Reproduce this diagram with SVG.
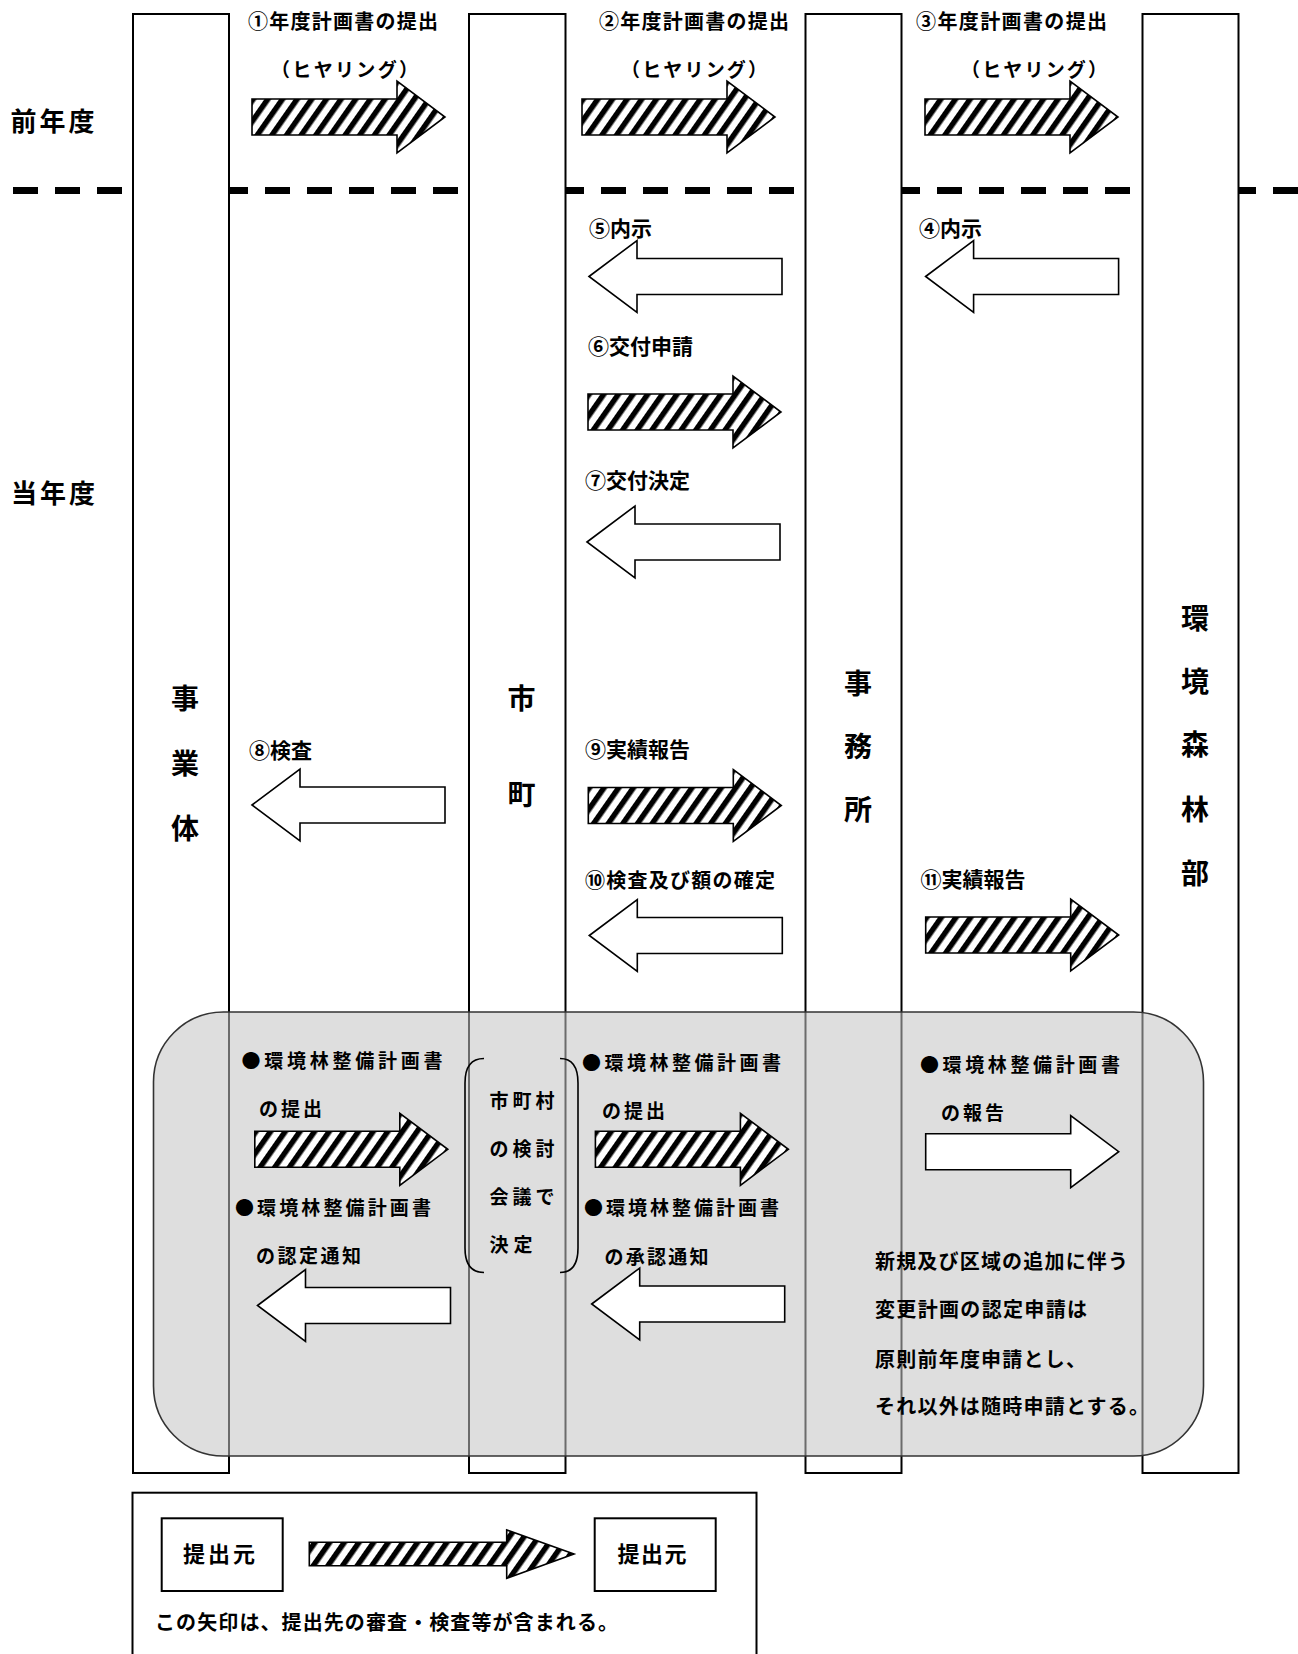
<svg xmlns="http://www.w3.org/2000/svg" xmlns:xlink="http://www.w3.org/1999/xlink" width="1298" height="1654" viewBox="0 0 1298 1654">
<style>
text{font-family:"Noto Sans CJK JP","Noto Sans CJK SC",sans-serif;font-weight:bold;fill:#000;dominant-baseline:central}
.lbl{font-size:20px}
.sm{font-size:21px}
.hy{font-size:19px}
.g{font-size:19px}
.col{font-size:28px;text-anchor:middle}
.side{font-size:26px}
.lane{fill:#fff;stroke:#000;stroke-width:2}
.hat{fill:url(#hatch);stroke:#000;stroke-width:1.6}
.wht{fill:#fff;stroke:#000;stroke-width:1.6}
.box{fill:#fff;stroke:#000;stroke-width:2}
</style>
<defs>
<pattern id="hatch" patternUnits="userSpaceOnUse" width="12" height="12" patternTransform="rotate(35)">
<rect width="12" height="12" fill="#fff"/><rect width="5.5" height="12" fill="#000"/>
</pattern>
<path id="ar" d="M0,-18 H145 V-36 L193,0 L145,36 V18 H0 Z"/>
<path id="al" d="M0,0 L48,-36 V-18 H193 V18 H48 V36 Z"/>
</defs>
<rect width="1298" height="1654" fill="#fff"/>
<line x1="13" y1="190.5" x2="1298" y2="190.5" stroke="#000" stroke-width="7" stroke-dasharray="25 17"/>
<text class="side" x="10.5" y="119" textLength="84">前年度</text>
<text class="side" x="11" y="491" textLength="84">当年度</text>
<g id="jigyotai"><rect class="lane" x="133" y="14" width="96" height="1459"/>
<text class="col" x="185" y="697">事</text><text class="col" x="185" y="762">業</text><text class="col" x="185" y="827">体</text></g>
<g id="shicho"><rect class="lane" x="469" y="14" width="96.5" height="1459"/>
<text class="col" x="521.5" y="697">市</text><text class="col" x="521.5" y="793">町</text></g>
<g id="jimusho"><rect class="lane" x="805.5" y="14" width="96" height="1459"/>
<text class="col" x="858" y="682">事</text><text class="col" x="858" y="745">務</text><text class="col" x="858" y="808">所</text></g>
<g id="kankyo"><rect class="lane" x="1142.5" y="14" width="96" height="1459"/>
<text class="col" x="1195" y="617">環</text><text class="col" x="1195" y="680">境</text><text class="col" x="1195" y="743">森</text><text class="col" x="1195" y="808">林</text><text class="col" x="1195" y="872">部</text></g>
<g id="plan-area">
<rect x="153.5" y="1012" width="1050" height="444" rx="70" ry="70" fill="#c3c3c3" fill-opacity="0.55" stroke="#333" stroke-width="1.6"/>
</g>
<g id="council">
<path d="M484,1058.5 Q465,1058.5 465,1083 V1248 Q465,1272.5 484,1272.5" fill="none" stroke="#000" stroke-width="1.6"/>
<path d="M560,1058.5 Q578,1058.5 578,1083 V1248 Q578,1272.5 560,1272.5" fill="none" stroke="#000" stroke-width="1.6"/>
<text class="g" x="489.6" y="1099" textLength="65">市町村</text>
<text class="g" x="489.6" y="1147" textLength="65">の検討</text>
<text class="g" x="489.6" y="1195" textLength="65">会議で</text>
<text class="g" x="489.6" y="1243" textLength="43">決定</text>
</g>
<g id="connectors">
<use href="#ar" class="hat" transform="translate(252,117)"/>
<use href="#ar" class="hat" transform="translate(582,117)"/>
<use href="#ar" class="hat" transform="translate(925,117)"/>
<use href="#al" class="wht" transform="translate(925.6,276.5)"/>
<use href="#al" class="wht" transform="translate(589,276.5)"/>
<use href="#ar" class="hat" transform="translate(588,412)"/>
<use href="#al" class="wht" transform="translate(587,542)"/>
<use href="#al" class="wht" transform="translate(252,805)"/>
<use href="#ar" class="hat" transform="translate(588.3,805.5)"/>
<use href="#al" class="wht" transform="translate(589.3,935.5)"/>
<use href="#ar" class="hat" transform="translate(925.7,935)"/>
<use href="#ar" class="hat" transform="translate(254.8,1149.3)"/>
<use href="#al" class="wht" transform="translate(257.5,1305.5)"/>
<use href="#ar" class="hat" transform="translate(595.4,1149.3)"/>
<use href="#al" class="wht" transform="translate(591.7,1304)"/>
<use href="#ar" class="wht" transform="translate(925.7,1151.7)"/>
</g>
<g id="labels">
<text class="lbl" x="248" y="20.7" textLength="190">①年度計画書の提出</text>
<text class="hy" x="271" y="68.3" textLength="147">（ヒヤリング）</text>
<text class="lbl" x="599" y="20.5" textLength="190">②年度計画書の提出</text>
<text class="hy" x="621" y="68.3" textLength="146">（ヒヤリング）</text>
<text class="lbl" x="916" y="20.5" textLength="191">③年度計画書の提出</text>
<text class="hy" x="961" y="68.3" textLength="146">（ヒヤリング）</text>
<text class="sm" x="919" y="226.7">④内示</text>
<text class="sm" x="589" y="226.7">⑤内示</text>
<text class="sm" x="588" y="345">⑥交付申請</text>
<text class="sm" x="585" y="479">⑦交付決定</text>
<text class="sm" x="249" y="748.6">⑧検査</text>
<text class="sm" x="585" y="748.3">⑨実績報告</text>
<text class="lbl" x="585" y="879.3" textLength="190">⑩検査及び額の確定</text>
<text class="sm" x="920.5" y="878">⑪実績報告</text>
<text class="g" x="241.5" y="1059" textLength="201">●環境林整備計画書</text>
<text class="g" x="259" y="1107" textLength="63">の提出</text>
<text class="g" x="235" y="1206" textLength="196">●環境林整備計画書</text>
<text class="g" x="256" y="1254" textLength="105">の認定通知</text>
<text class="g" x="582" y="1061" textLength="199">●環境林整備計画書</text>
<text class="g" x="602" y="1109.5" textLength="63">の提出</text>
<text class="g" x="584" y="1206.5" textLength="195">●環境林整備計画書</text>
<text class="g" x="604.5" y="1255" textLength="104">の承認通知</text>
<text class="g" x="920" y="1063" textLength="200">●環境林整備計画書</text>
<text class="g" x="941" y="1111.7" textLength="63">の報告</text>
<text class="lbl" x="875" y="1260" textLength="253">新規及び区域の追加に伴う</text>
<text class="lbl" x="875" y="1308.3" textLength="212">変更計画の認定申請は</text>
<text class="lbl" x="875" y="1358.3" textLength="211">原則前年度申請とし、</text>
<text class="lbl" x="875" y="1405" textLength="274">それ以外は随時申請とする。</text>
</g>
<g id="legend">
<rect class="box" x="132.5" y="1492.7" width="624" height="200"/>
<g id="legend-from"><rect class="box" x="161.7" y="1518.3" width="121" height="72.7"/>
<text style="font-size:22px" x="183" y="1552" textLength="72">提出元</text></g>
<g id="legend-to"><rect class="box" x="594.7" y="1518.3" width="121" height="72.7"/>
<text style="font-size:22px" x="617.5" y="1552" textLength="69">提出元</text></g>
<path class="hat" d="M309.3,1542.3 H506.7 V1530 L574,1554 L506.7,1578.3 V1565.7 H309.3 Z"/>
<text class="lbl" x="155" y="1621" textLength="463">この矢印は、提出先の審査・検査等が含まれる。</text>
</g>
</svg>
